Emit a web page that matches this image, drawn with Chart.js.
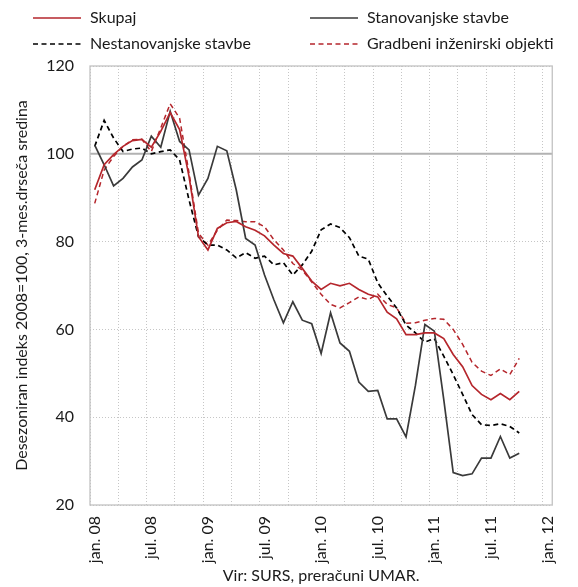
<!DOCTYPE html>
<html>
<head>
<meta charset="utf-8">
<script src="https://cdn.jsdelivr.net/npm/chart.js@4.4.0/dist/chart.umd.min.js"></script>
<style>
  html, body { margin: 0; padding: 0; background: #fff; }
</style>
</head>
<body>
<canvas id="chart" width="578" height="587"></canvas>
<script>
// months jan.08 .. jan.12 (49 categories), data runs jan.08 .. okt.11
const monthNames = ['jan.', 'feb.', 'mar.', 'apr.', 'maj', 'jun.', 'jul.', 'avg.', 'sep.', 'okt.', 'nov.', 'dec.'];
const years = ['08', '09', '10', '11', '12'];
const categories = [];
years.forEach(function (y, yi) {
    monthNames.forEach(function (m, mi) {
        if (yi < 4 || mi === 0) categories.push(m + ' ' + y);
    });
});

const skupaj = [91.8, 97.5, 99.8, 101.7, 103.0, 103.3, 101.5, 105.1, 109.4, 105.5, 94.8, 81.1,
    78.1, 83.0, 84.3, 84.6, 83.4, 82.6, 81.3, 79.2, 77.3, 76.7, 73.9, 71.0,
    69.1, 70.5, 69.9, 70.5, 69.1, 68.0, 67.4, 63.9, 62.4, 58.8, 58.8, 59.2,
    59.2, 57.9, 54.3, 51.5, 47.2, 45.2, 44.0, 45.4, 44.0, 45.9];

const stanovanjske = [102.0, 97.5, 92.7, 94.4, 97.0, 98.6, 104.0, 101.5, 109.7, 102.8, 100.9, 90.6,
    94.4, 101.7, 100.7, 91.8, 80.7, 79.2, 72.4, 66.7, 61.5, 66.3, 62.1, 61.3,
    54.5, 63.8, 56.9, 55.0, 48.0, 45.9, 46.1, 39.6, 39.6, 35.5, 47.3, 61.1,
    59.6, 44.0, 27.4, 26.7, 27.1, 30.7, 30.7, 35.6, 30.7, 31.8];

const nestanovanjske = [101.7, 107.6, 103.6, 100.5, 101.1, 101.3, 100.0, 100.5, 100.9, 98.6, 89.5, 81.1,
    79.2, 79.2, 78.1, 76.3, 77.5, 76.2, 76.7, 74.7, 75.2, 72.4, 74.7, 77.8,
    82.7, 84.0, 83.2, 80.9, 76.7, 76.0, 70.6, 67.6, 64.9, 61.0, 59.2, 57.1,
    57.9, 53.9, 49.7, 45.2, 40.6, 38.3, 38.1, 38.5, 37.9, 36.4];

const gradbeni = [88.7, 96.3, 99.4, 101.7, 103.2, 103.3, 100.5, 105.9, 111.4, 108.1, 95.6, 81.9,
    79.2, 82.6, 84.9, 84.8, 84.5, 84.5, 83.4, 80.4, 78.1, 75.0, 73.5, 70.8,
    68.0, 65.7, 64.9, 66.1, 67.4, 66.8, 68.0, 65.7, 64.9, 61.4, 61.5, 62.1,
    62.5, 62.3, 60.0, 56.6, 52.5, 50.5, 49.5, 51.0, 49.7, 53.4];

const yTicks = [20, 40, 60, 80, 100, 120];

const RED = '#b5262c';
const GREY = '#3a3a3a';
const GRID = '#c6c6c6';
const TEXT = '#1a1a1a';

Chart.defaults.font.family = 'Lato, "Noto Sans", sans-serif';
Chart.defaults.font.size = 16;
Chart.defaults.color = TEXT;

// frame of the plot and the solid line at 100
const framePlugin = {
    id: 'frame',
    beforeDatasetsDraw: function (chart) {
        const ctx = chart.ctx, a = chart.chartArea;
        const y100 = chart.scales.y.getPixelForValue(100);
        ctx.save();
        ctx.strokeStyle = '#b2b2b2';
        ctx.lineWidth = 2;
        ctx.beginPath();
        ctx.moveTo(a.left, y100);
        ctx.lineTo(a.right, y100);
        ctx.stroke();
        ctx.strokeStyle = '#c2c2c2';
        ctx.lineWidth = 1.3;
        ctx.strokeRect(a.left, a.top, a.right - a.left, a.bottom - a.top);
        ctx.restore();
    }
};

// two column legend like the original
const legendPlugin = {
    id: 'twoColLegend',
    afterDraw: function (chart) {
        const ctx = chart.ctx;
        const cols = [33, 310];
        const rows = [18, 44];
        const slots = [[0, 0], [1, 0], [0, 1], [1, 1]];
        ctx.save();
        ctx.font = '16px ' + Chart.defaults.font.family;
        ctx.textBaseline = 'middle';
        chart.data.datasets.forEach(function (ds, i) {
            const x = cols[slots[i][0]], y = rows[slots[i][1]];
            ctx.strokeStyle = ds.borderColor;
            ctx.lineWidth = ds.borderWidth;
            ctx.setLineDash(ds.borderDash || []);
            ctx.beginPath();
            ctx.moveTo(x, y);
            ctx.lineTo(x + 48, y);
            ctx.stroke();
            ctx.setLineDash([]);
            ctx.fillStyle = TEXT;
            ctx.fillText(ds.label, x + 57, y);
        });
        ctx.restore();
    }
};

new Chart(document.getElementById('chart'), {
    type: 'line',
    data: {
        labels: categories,
        datasets: [
            { label: 'Skupaj', data: skupaj, borderColor: RED, borderWidth: 1.7 },
            { label: 'Stanovanjske stavbe', data: stanovanjske, borderColor: GREY, borderWidth: 1.7 },
            { label: 'Nestanovanjske stavbe', data: nestanovanjske, borderColor: '#000000', borderWidth: 1.7, borderDash: [5, 3.5] },
            { label: 'Gradbeni inženirski objekti', data: gradbeni, borderColor: RED, borderWidth: 1.5, borderDash: [5, 3.5] }
        ]
    },
    options: {
        responsive: false,
        animation: false,
        devicePixelRatio: 1,
        layout: { padding: { top: 66, right: 25, left: 0, bottom: 0 } },
        elements: {
            point: { radius: 0 },
            line: { tension: 0, fill: false }
        },
        plugins: {
            legend: { display: false },
            tooltip: { enabled: false }
        },
        scales: {
            x: {
                type: 'category',
                offset: true,
                grid: {
                    offset: true,
                    drawTicks: false,
                    lineWidth: 1,
                    color: function (c) { return c.index % 3 === 0 ? GRID : 'rgba(0,0,0,0)'; }
                },
                border: { display: false, dash: [1, 2] },
                ticks: {
                    autoSkip: false,
                    maxRotation: 90,
                    minRotation: 90,
                    padding: 11,
                    callback: function (v, i) { return i % 6 === 0 ? this.getLabelForValue(v) : ''; }
                },
                title: {
                    display: true,
                    text: 'Vir: SURS, preračuni UMAR.',
                    padding: { top: 2, bottom: 2 }
                },
                afterFit: function (s) { s.height = 82; }
            },
            y: {
                min: 20,
                max: 120,
                afterBuildTicks: function (s) { s.ticks = yTicks.map(function (v) { return { value: v }; }); },
                grid: {
                    drawTicks: false,
                    lineWidth: 1,
                    color: function (c) { return c.tick && c.tick.value === 100 ? 'rgba(0,0,0,0)' : GRID; }
                },
                border: { display: false, dash: [1, 2] },
                ticks: { padding: 16 },
                title: {
                    display: true,
                    text: 'Desezoniran indeks 2008=100, 3-mes.drseča sredina',
                    padding: { top: 12, bottom: 0 }
                },
                afterFit: function (s) { s.width = 90; }
            }
        }
    },
    plugins: [framePlugin, legendPlugin]
});
</script>
</body>
</html>
